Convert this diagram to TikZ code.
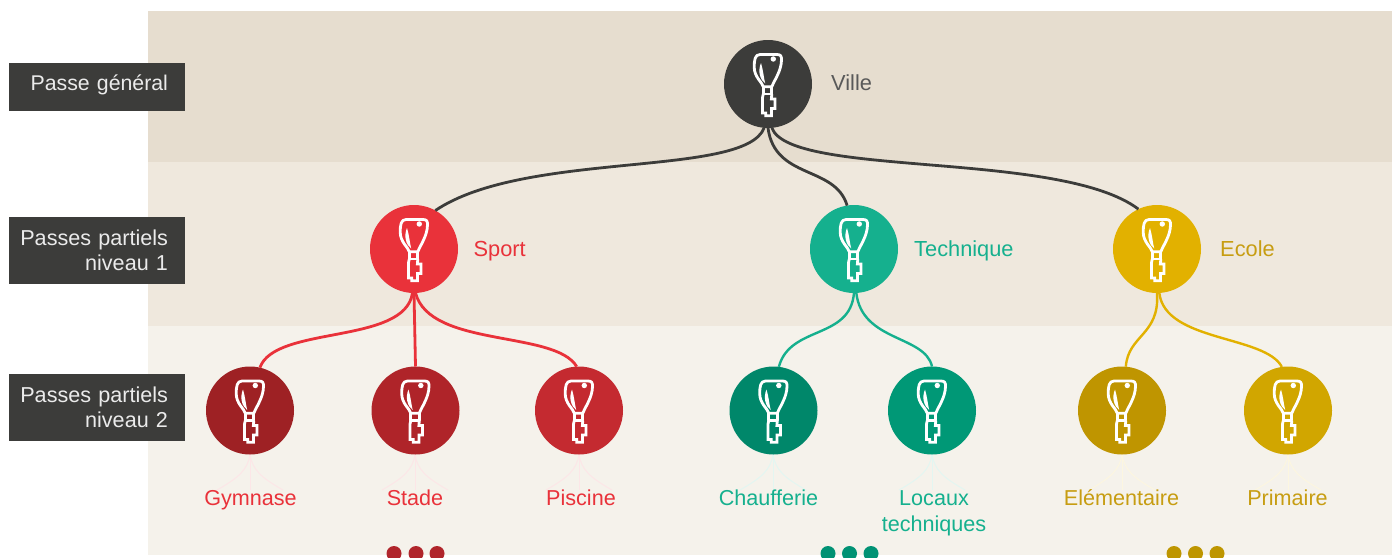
\documentclass[tikz,border=0pt]{standalone}
\usepackage{fontspec}
\setmainfont{Liberation Sans}
\definecolor{bandA}{HTML}{E6DDCF}
\definecolor{bandB}{HTML}{EFE8DD}
\definecolor{bandC}{HTML}{F5F2EB}
\definecolor{darkc}{HTML}{3C3C3A}
\definecolor{redc}{HTML}{E9323A}
\definecolor{greenc}{HTML}{15B08E}
\definecolor{yelc}{HTML}{E2B100}
\definecolor{yeltext}{HTML}{C79D12}
\definecolor{gymc}{HTML}{9E2124}
\definecolor{stadec}{HTML}{AF2429}
\definecolor{piscc}{HTML}{C42A30}
\definecolor{chaufc}{HTML}{00876A}
\definecolor{locc}{HTML}{009876}
\definecolor{elemc}{HTML}{BF9500}
\definecolor{primc}{HTML}{D1A600}
\definecolor{dotr}{HTML}{B0252B}
\definecolor{dotg}{HTML}{009274}
\definecolor{doty}{HTML}{BE9600}
\newcommand{\labgap}{\rule{17pt}{0pt}}
\tikzset{
  x=1pt,y=-1pt,
  keyicon/.pic={
    \draw[white,line width=2.8pt,line join=round]
      (-8,-29.5) -- (9,-29.5) .. controls (12.5,-29.5) and (13.7,-28) .. (13.5,-24)
      .. controls (13.2,-13) and (7,-5) .. (3.8,2.7) -- (-4.7,2.7)
      .. controls (-6,-2) and (-13.8,-7) .. (-13.8,-17)
      .. controls (-13.8,-24) and (-13,-29.5) .. (-8,-29.5) -- cycle;
    \fill[white] (-7,-21) .. controls (-10.5,-13) and (-8,-4) .. (-2.8,-0.5)
      .. controls (-4.4,-7) and (-4.8,-14) .. (-7,-21) -- cycle;
    \fill[white] (5.3,-25) circle (2.7);
    \draw[white,line width=2.8pt,line join=round]
      (-4.7,2.7) -- (-4.7,10) -- (3.8,10) -- (3.8,2.7);
    \draw[white,line width=2.8pt,line join=miter]
      (-4.7,10) -- (-5.6,14) -- (-5.6,29) -- (-2.3,29) -- (-2.3,31.7) -- (3.4,31.7)
      -- (3.4,24.5) -- (7,24.5) -- (7,15) -- (3.4,15) -- (3.8,10);
  },
  keynode/.style={circle,fill=#1,minimum size=88pt,inner sep=0pt,outer sep=0pt},
  link/.style={draw=#1,line width=2.8pt},
  thin link/.style={draw=#1,line width=2.4pt},
  faint/.style={draw=#1!12!white,line width=1pt},
  lab/.style={fill=darkc,text=white!92!black,minimum width=176pt,inner sep=0pt,outer sep=0pt,anchor=west,
     align=right,text width=176pt,font=\fontsize{21.6}{25}\selectfont},
  caption/.style={font=\fontsize{21.6}{25.5}\selectfont,align=center,inner sep=0pt,text=#1},
  capbase/.style={caption=#1,anchor=base},
  side/.style={font=\fontsize{21.8}{25}\selectfont,anchor=base west,inner sep=0pt,text=#1},
  dotmark/.style={circle,fill=#1,minimum size=15pt,inner sep=0pt},
}
\begin{document}
\begin{tikzpicture}
\useasboundingbox (0,0) rectangle (1392,557);
\fill[bandA] (148,11) rectangle (1392,162);
\fill[bandB] (148,162) rectangle (1392,326);
\fill[bandC] (148,326) rectangle (1392,555);

\node[lab,minimum height=48pt,text height=12pt,text depth=4.8pt,font=\fontsize{21.3}{25}\selectfont] (l0) at (9,87) {Passe général\labgap};
\node[lab,minimum height=67pt] (l1) at (9,250.5) {Passes partiels\labgap\\niveau 1\labgap};
\node[lab,minimum height=67pt] (l2) at (9,407.5) {Passes partiels\labgap\\niveau 2\labgap};

% faint rays (drawn first, under the circles and captions)
\foreach \n/\xx/\c in {a/250/redc,b/415/redc,c/579/redc,d/773/greenc,e/932/greenc,f/1122/yelc,g/1288/yelc}{
  \coordinate (r\n) at (\xx,454);
  \coordinate (r\n l) at (\xx-33,490);
  \coordinate (r\n m) at (\xx,490);
  \coordinate (r\n r) at (\xx+33,490);
  \draw[faint=\c] (r\n) .. controls (\xx-2,470) and (\xx-12,478) .. (r\n l);
  \draw[faint=\c] (r\n) -- (r\n m);
  \draw[faint=\c] (r\n) .. controls (\xx+2,470) and (\xx+12,478) .. (r\n r);
}

\node[keynode=darkc] (ville) at (768,84) {};
\node[keynode=redc] (sport) at (414,249) {};
\node[keynode=greenc] (tech) at (854,249) {};
\node[keynode=yelc] (ecole) at (1157,249) {};
\node[keynode=gymc] (gym) at (250,410.5) {};
\node[keynode=stadec] (stade) at (415.5,410.5) {};
\node[keynode=piscc] (pisc) at (579,410.5) {};
\node[keynode=chaufc] (chauf) at (773.5,410.5) {};
\node[keynode=locc] (loc) at (932,410.5) {};
\node[keynode=elemc] (elem) at (1122,410.5) {};
\node[keynode=primc] (prim) at (1288,410.5) {};

\draw[link=darkc] (ville.265) .. controls (745,178) and (525,150) .. (sport.61);
\draw[link=darkc] (ville.270) .. controls (775,180) and (835,165) .. (tech.99);
\draw[link=darkc] (ville.275) .. controls (790,178) and (1060,150) .. (ecole.115);
\draw[link=redc] (sport.268) .. controls (405,345) and (275,325) .. (gym.77);
\draw[link=redc] (sport.270) -- (stade.90);
\draw[link=redc] (sport.272) .. controls (430,348) and (555,330) .. (pisc.93);
\draw[thin link=greenc] (tech.270) .. controls (850,340) and (790,325) .. (chauf.83);
\draw[thin link=greenc] (tech.273) .. controls (862,342) and (925,335) .. (loc.90);
\draw[thin link=yelc] (ecole.270) .. controls (1160,335) and (1128,335) .. (elem.85);
\draw[thin link=yelc] (ecole.273) .. controls (1165,342) and (1265,335) .. (prim.98);

\foreach \k in {ville,sport,tech,ecole,gym,stade,pisc,chauf,loc,elem,prim}{
  \pic at (\k) {keyicon};
}

\node[side={black!65}] (tv) at (831,90.5) {Ville};
\node[side=redc] (ts) at (473.5,256.5) {Sport};
\node[side=greenc] (tt) at (914,256.5) {Technique};
\node[side=yeltext] (te) at (1220,256.5) {Ecole};

\node[capbase=redc] (c1) at (250.5,505.5) {Gymnase};
\node[capbase=redc] (c2) at (415,505.5) {Stade};
\node[capbase=redc] (c3) at (581,505.5) {Piscine};
\node[capbase=greenc] (c4) at (768.5,505.5) {Chaufferie};
\node[caption=greenc,anchor=north] (c5) at (934,490.5) {Locaux\\techniques};
\node[capbase=yeltext] (c6) at (1121.5,505.5) {Elémentaire};
\node[capbase=yeltext] (c7) at (1287.5,505.5) {Primaire};

\begin{scope}
\clip (0,0) rectangle (1392,557);
\foreach \xx [count=\i] in {394,416,437}{\node[dotmark=dotr] (da\i) at (\xx,553.5) {};}
\foreach \xx [count=\i] in {828,849.5,871}{\node[dotmark=dotg] (db\i) at (\xx,553.5) {};}
\foreach \xx [count=\i] in {1174,1195.5,1217}{\node[dotmark=doty] (dc\i) at (\xx,553.5) {};}
\end{scope}
\end{tikzpicture}
\end{document}
